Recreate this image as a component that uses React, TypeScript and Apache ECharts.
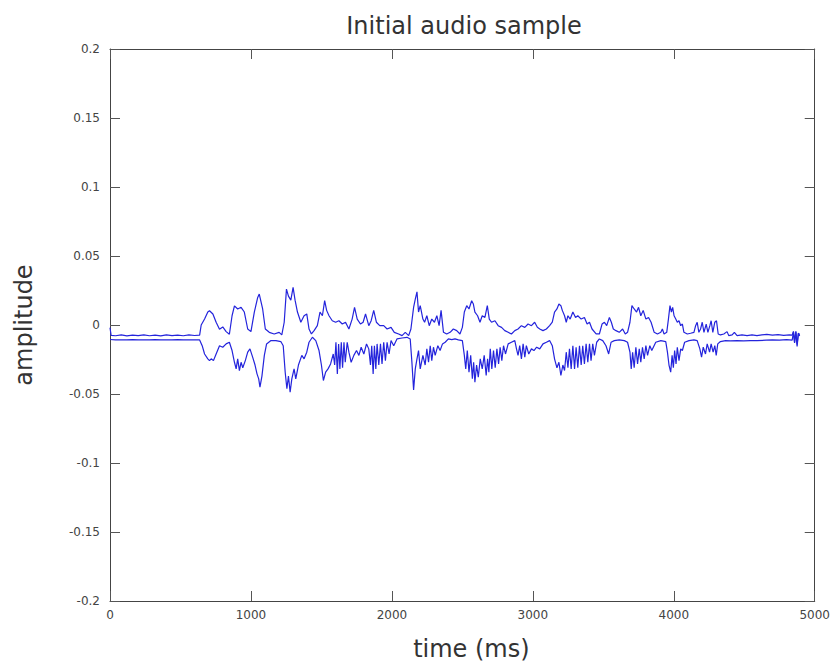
import React, { useEffect, useRef } from "react";
import * as echarts from "echarts";

const chartTitle = "Initial audio sample";
const xAxisName = "time (ms)";
const yAxisName = "amplitude";
const xTicks = [0, 1000, 2000, 3000, 4000, 5000];
const yTicks = [-0.2, -0.15, -0.1, -0.05, 0, 0.05, 0.1, 0.15, 0.2];

// upper envelope [time ms, amplitude]
const upperEnvelope: [number, number][] = [
  [0, -0.002], [8, -0.0075], [40, -0.0078], [80, -0.0072], [120, -0.0079], [160, -0.0074],
  [200, -0.0077], [240, -0.0071], [280, -0.0078], [320, -0.0073], [360, -0.0079], [400, -0.0072],
  [440, -0.0077], [480, -0.0074], [520, -0.0078], [560, -0.0072], [600, -0.0076], [636, -0.0074],
  [647, 0], [671, 0.0043], [694, 0.0094], [706, 0.0103], [730, 0.008], [753, 0.002], [777, -0.003],
  [800, -0.0014], [824, -0.0048], [847, -0.0067], [866, 0.0067], [883, 0.0139], [906, 0.0116],
  [930, 0.0128], [953, 0.0094], [977, -0.0029], [1000, -0.0048], [1024, 0.0094], [1048, 0.02],
  [1059, 0.0224], [1083, 0.0116], [1102, -0.0029], [1130, -0.0053], [1165, -0.0065], [1200, -0.0053],
  [1219, -0.0072], [1236, 0.002], [1252, 0.026], [1266, 0.0209], [1283, 0.018], [1299, 0.0272],
  [1313, 0.018], [1330, 0.0094], [1354, 0.002], [1377, 0.0067], [1396, 0.008], [1412, -0.0029],
  [1429, -0.0065], [1448, -0.0041], [1471, -0.0005], [1490, 0.0094], [1507, 0.0067], [1523, 0.0176],
  [1537, 0.0106], [1554, 0.0067], [1577, 0.0031], [1601, 0.002], [1624, 0.0031], [1648, 0.0007],
  [1671, 0.002], [1695, -0.0029], [1718, 0.0043], [1735, 0.0128], [1754, 0.0043], [1777, 0.0007],
  [1796, 0.002], [1813, 0.008], [1836, -0.0005], [1853, 0.0031], [1871, 0.0106], [1890, 0.002],
  [1914, -0.0005], [1942, -0.0005], [1966, -0.0029], [1994, -0.0017], [2017, -0.0053], [2048, -0.0065],
  [2072, -0.0077], [2095, -0.0053], [2119, -0.0077], [2135, -0.0029], [2154, 0.0128], [2166, 0.0188],
  [2178, 0.024], [2189, 0.0094], [2201, 0.014], [2220, 0.0043], [2232, 0.002], [2248, 0.0067],
  [2265, -0.0005], [2283, 0.0043], [2302, 0.002], [2319, 0.0067], [2335, -0.0005], [2349, 0.0106],
  [2366, -0.0053], [2389, -0.0065], [2413, -0.0053], [2436, -0.0029], [2460, -0.0041], [2483, -0.0065],
  [2500, -0.0017], [2514, 0.0094], [2531, 0.014], [2547, 0.0116], [2566, 0.0176], [2578, 0.0152],
  [2589, 0.0094], [2608, 0.0067], [2625, 0.002], [2641, 0.0067], [2660, 0.0055], [2677, 0.014],
  [2691, 0.0043], [2707, 0.002], [2731, 0.0031], [2754, -0.0005], [2778, -0.0017], [2801, -0.0041],
  [2825, -0.0053], [2848, -0.0065], [2872, -0.0041], [2895, -0.0029], [2919, -0.0005], [2943, -0.0017],
  [2966, 0.0007], [2990, -0.0005], [3013, 0.002], [3032, -0.0017], [3049, -0.0029], [3072, -0.0041],
  [3096, -0.0029], [3119, -0.0005], [3138, 0.002], [3154, 0.0094], [3171, 0.0116], [3185, 0.0152],
  [3199, 0.014], [3209, 0.0106], [3225, 0.0067], [3237, 0.002], [3249, 0.0067], [3265, 0.0043],
  [3284, 0.0094], [3303, 0.0055], [3319, 0.0067], [3343, 0.0043], [3366, 0.0055], [3385, 0.0007],
  [3402, 0.002], [3420, -0.0029], [3449, -0.0065], [3472, -0.0065], [3491, 0.0007], [3508, 0.002],
  [3524, -0.0005], [3543, 0.0055], [3557, 0.002], [3571, -0.0029], [3590, -0.0041], [3613, -0.0053],
  [3637, -0.0029], [3656, -0.0065], [3672, -0.0053], [3689, 0.002], [3703, 0.014], [3719, 0.0116],
  [3736, 0.0094], [3750, 0.0128], [3766, 0.0067], [3783, 0.0106], [3802, 0.0043], [3821, 0.0055],
  [3839, 0.002], [3861, -0.0053], [3884, -0.0065], [3908, -0.0053], [3919, -0.0029], [3931, -0.0065],
  [3950, -0.0053], [3962, 0.0043], [3973, 0.014], [3983, 0.0094], [3992, 0.0128], [4002, 0.0067],
  [4014, 0.0043], [4025, 0.002], [4037, 0.0031], [4049, -0.0005], [4061, 0.0007], [4072, -0.0053],
  [4096, -0.0065], [4119, -0.006], [4143, -0.0053], [4155, -0.0005], [4166, 0.002], [4178, -0.0053],
  [4190, -0.0029], [4202, 0.002], [4214, -0.0053], [4230, 0.0007], [4242, -0.0053], [4256, -0.0005],
  [4265, 0.0031], [4277, -0.0053], [4291, 0.002], [4303, 0.0031], [4315, -0.0065], [4331, -0.0072],
  [4355, -0.0065], [4378, -0.0048], [4390, -0.0077], [4414, -0.0072], [4430, -0.0053], [4449, -0.0077],
  [4484, -0.0072], [4520, -0.0077], [4555, -0.0072], [4590, -0.0077], [4625, -0.0072], [4660, -0.0068],
  [4700, -0.0074], [4740, -0.007], [4780, -0.0075], [4820, -0.0071], [4840, -0.0073], [4849, -0.0046],
  [4857, -0.0125], [4866, -0.005], [4875, -0.014], [4884, -0.006], [4893, -0.008],
];

// lower envelope [time ms, amplitude]
const lowerEnvelope: [number, number][] = [
  [0, -0.0105], [40, -0.0108], [80, -0.0107], [120, -0.0108], [160, -0.0106], [200, -0.0108],
  [240, -0.0107], [280, -0.0108], [320, -0.0106], [360, -0.0108], [400, -0.0107], [440, -0.0108],
  [480, -0.0106], [520, -0.0108], [560, -0.0107], [600, -0.0108], [636, -0.0108],
  [654, -0.015], [671, -0.021], [694, -0.0245], [706, -0.0258], [718, -0.0245], [734, -0.0258],
  [753, -0.021], [777, -0.015], [800, -0.0161], [824, -0.0137], [847, -0.0125], [866, -0.0185],
  [883, -0.027], [895, -0.0318], [906, -0.0245], [918, -0.033], [930, -0.027], [942, -0.031],
  [960, -0.0258], [977, -0.0197], [993, -0.0173], [1012, -0.0233], [1029, -0.029], [1043, -0.0354],
  [1055, -0.039], [1064, -0.045], [1078, -0.037], [1095, -0.022], [1111, -0.0137], [1142, -0.0113],
  [1177, -0.0113], [1212, -0.012], [1229, -0.015], [1243, -0.0342], [1255, -0.0462], [1266, -0.037],
  [1278, -0.0486], [1290, -0.039], [1306, -0.0318], [1318, -0.039], [1337, -0.029], [1361, -0.022],
  [1377, -0.0245], [1396, -0.0197], [1412, -0.0125], [1436, -0.0089], [1460, -0.0113], [1483, -0.0185],
  [1500, -0.029], [1514, -0.0402], [1530, -0.0342], [1547, -0.0318], [1565, -0.0282], [1584, -0.021],
  [1594, -0.029], [1603, -0.0125], [1613, -0.0354], [1622, -0.0137], [1631, -0.0318], [1641, -0.0125],
  [1650, -0.031], [1660, -0.0125], [1669, -0.027], [1683, -0.0125], [1695, -0.0197], [1711, -0.027],
  [1730, -0.022], [1749, -0.0185], [1766, -0.022], [1782, -0.0161], [1801, -0.021], [1820, -0.0137],
  [1836, -0.0173], [1848, -0.029], [1857, -0.015], [1867, -0.0354], [1876, -0.015], [1886, -0.0318],
  [1895, -0.0137], [1907, -0.029], [1919, -0.0137], [1930, -0.0282], [1942, -0.0125], [1954, -0.0258],
  [1966, -0.0125], [1980, -0.021], [1994, -0.0113], [2013, -0.015], [2036, -0.0101], [2072, -0.0094],
  [2107, -0.0089], [2130, -0.0101], [2142, -0.027], [2154, -0.047], [2166, -0.0318], [2178, -0.0245],
  [2189, -0.0185], [2201, -0.0318], [2220, -0.022], [2236, -0.029], [2248, -0.0173], [2260, -0.027],
  [2272, -0.015], [2283, -0.0258], [2295, -0.0161], [2307, -0.022], [2326, -0.015], [2342, -0.0185],
  [2359, -0.0137], [2378, -0.0125], [2401, -0.0101], [2425, -0.0106], [2448, -0.0101], [2472, -0.0108],
  [2500, -0.0113], [2514, -0.022], [2524, -0.0318], [2535, -0.0185], [2547, -0.0342], [2559, -0.022],
  [2571, -0.039], [2580, -0.027], [2589, -0.0414], [2601, -0.029], [2613, -0.0378], [2627, -0.0245],
  [2641, -0.0318], [2655, -0.022], [2669, -0.0366], [2679, -0.0245], [2688, -0.0342], [2698, -0.0173],
  [2709, -0.0318], [2721, -0.0185], [2733, -0.031], [2745, -0.0173], [2757, -0.0282], [2768, -0.0161],
  [2780, -0.0258], [2792, -0.015], [2806, -0.021], [2825, -0.0137], [2848, -0.0125], [2872, -0.0113],
  [2884, -0.0173], [2895, -0.022], [2907, -0.015], [2919, -0.0245], [2931, -0.0137], [2943, -0.0233],
  [2954, -0.015], [2971, -0.021], [2990, -0.0173], [3008, -0.0185], [3027, -0.0161], [3049, -0.0173],
  [3072, -0.0137], [3096, -0.0125], [3119, -0.0113], [3138, -0.015], [3154, -0.0245], [3171, -0.031],
  [3185, -0.027], [3199, -0.0366], [3213, -0.029], [3225, -0.033], [3237, -0.0197], [3249, -0.031],
  [3260, -0.0173], [3272, -0.0318], [3284, -0.015], [3296, -0.0318], [3307, -0.0161], [3319, -0.031],
  [3331, -0.015], [3343, -0.029], [3354, -0.015], [3366, -0.0282], [3378, -0.0137], [3390, -0.027],
  [3402, -0.0137], [3413, -0.0258], [3425, -0.0137], [3437, -0.022], [3453, -0.0125], [3472, -0.0101],
  [3496, -0.0113], [3519, -0.015], [3538, -0.021], [3555, -0.0125], [3578, -0.0113], [3613, -0.0108],
  [3649, -0.0113], [3672, -0.0125], [3689, -0.0197], [3698, -0.0318], [3708, -0.0197], [3719, -0.031],
  [3731, -0.0161], [3743, -0.0282], [3755, -0.0173], [3766, -0.027], [3778, -0.0161], [3790, -0.0245],
  [3802, -0.015], [3814, -0.022], [3830, -0.015], [3844, -0.0185], [3872, -0.0125], [3908, -0.0113],
  [3943, -0.012], [3955, -0.0197], [3966, -0.029], [3978, -0.0342], [3988, -0.022], [3997, -0.031],
  [4006, -0.0185], [4016, -0.0282], [4025, -0.0161], [4037, -0.0258], [4049, -0.0173], [4061, -0.0185],
  [4077, -0.0125], [4108, -0.0113], [4143, -0.0108], [4166, -0.0113], [4185, -0.0173], [4197, -0.0233],
  [4209, -0.0161], [4225, -0.021], [4237, -0.0137], [4254, -0.0197], [4265, -0.0137], [4279, -0.0197],
  [4291, -0.015], [4301, -0.022], [4312, -0.0137], [4331, -0.012], [4367, -0.0113], [4402, -0.0115],
  [4449, -0.0113], [4496, -0.0115], [4543, -0.0113], [4590, -0.0113], [4656, -0.011], [4700, -0.0108],
  [4750, -0.011], [4800, -0.0106], [4840, -0.011], [4849, -0.005], [4857, -0.013], [4866, -0.0045],
  [4875, -0.0155], [4884, -0.006], [4893, -0.007],
];

const LINE_COLOR = "#2424dc";
const AXIS_COLOR = "#444";
const FONT = "'DejaVu Sans', sans-serif";

export default function App() {
  const ref = useRef<HTMLDivElement>(null);
  useEffect(() => {
    if (!ref.current) return;
    const chart = echarts.init(ref.current, undefined, { renderer: "svg" });
    const xMin = xTicks[0];
    const xMax = xTicks[xTicks.length - 1];
    const xInt = xTicks[1] - xTicks[0];
    const yMin = yTicks[0];
    const yMax = yTicks[yTicks.length - 1];
    const yInt = 0.05;
    const tick = { show: true, inside: true, length: 10, lineStyle: { color: "#555", width: 1 } };
    const axLine = { show: true, onZero: false, lineStyle: { color: AXIS_COLOR, width: 1 } };
    const plain = (v: number) => String(Math.round(v * 1000) / 1000);
    chart.setOption({
      animation: false,
      backgroundColor: "#fff",
      title: {
        text: chartTitle,
        left: 459,
        textAlign: "center",
        top: 9,
        textStyle: { fontFamily: FONT, fontSize: 24, fontWeight: "normal", color: "#333" },
      },
      grid: { left: 110, right: 15, top: 49, bottom: 63, containLabel: false },
      xAxis: [
        {
          type: "value", min: xMin, max: xMax, interval: xInt, position: "bottom",
          axisLine: axLine, axisTick: tick, splitLine: { show: false },
          axisLabel: { color: "#444", fontSize: 12, fontFamily: FONT, margin: 8, formatter: plain },
          name: xAxisName, nameLocation: "middle", nameGap: 36,
          nameTextStyle: { fontFamily: FONT, fontSize: 24, color: "#333", padding: [0, 0, 0, 18] },
        },
        {
          type: "value", min: xMin, max: xMax, interval: xInt, position: "top",
          axisLine: axLine, axisTick: tick, splitLine: { show: false }, axisLabel: { show: false },
        },
      ],
      yAxis: [
        {
          type: "value", min: yMin, max: yMax, interval: yInt, position: "left",
          axisLine: axLine, axisTick: tick, splitLine: { show: false },
          axisLabel: { color: "#444", fontSize: 12, fontFamily: FONT, margin: 10, formatter: plain },
          name: yAxisName, nameLocation: "middle", nameGap: 74, nameRotate: 90,
          nameTextStyle: { fontFamily: FONT, fontSize: 24, color: "#333" },
        },
        {
          type: "value", min: yMin, max: yMax, interval: yInt, position: "right",
          axisLine: axLine, axisTick: tick, splitLine: { show: false }, axisLabel: { show: false },
        },
      ],
      series: [
        {
          type: "line", name: "upper", data: upperEnvelope, showSymbol: false, symbol: "none",
          xAxisIndex: 0, yAxisIndex: 0, lineStyle: { color: LINE_COLOR, width: 1.2 }, silent: true,
        },
        {
          type: "line", name: "lower", data: lowerEnvelope, showSymbol: false, symbol: "none",
          xAxisIndex: 0, yAxisIndex: 0, lineStyle: { color: LINE_COLOR, width: 1.2 }, silent: true,
        },
      ],
    });
    return () => chart.dispose();
  }, []);
  return (
    <div
      ref={ref}
      style={{ position: "absolute", left: 0, top: 0, width: 833, height: 666, background: "#fff" }}
    />
  );
}
